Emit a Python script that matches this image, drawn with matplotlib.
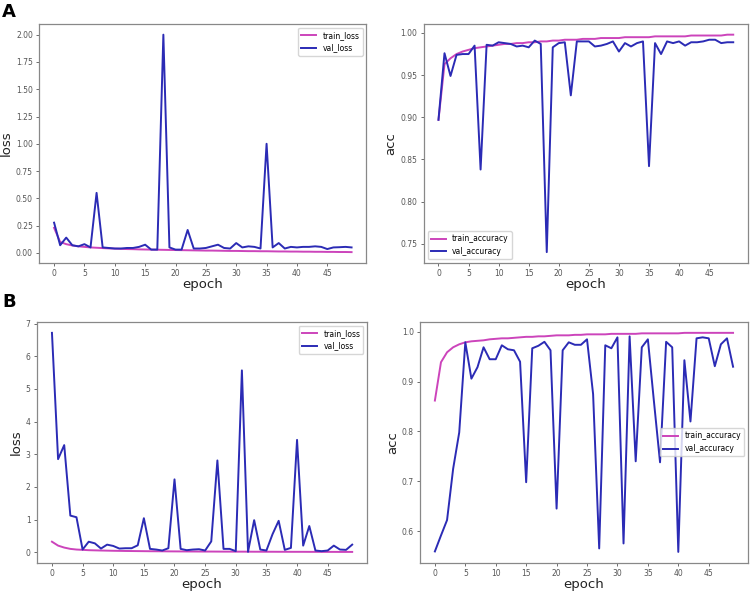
import matplotlib
matplotlib.use("Agg")
import matplotlib.pyplot as plt

epochs = list(range(50))

# panel A
a_train_loss = [0.23, 0.10, 0.080, 0.068, 0.060, 0.055, 0.050, 0.047, 0.044, 0.041,
                0.039, 0.037, 0.035, 0.034, 0.032, 0.031, 0.030, 0.029, 0.028, 0.027,
                0.026, 0.025, 0.024, 0.023, 0.022, 0.021, 0.021, 0.020, 0.019, 0.018,
                0.018, 0.017, 0.016, 0.016, 0.015, 0.015, 0.014, 0.013, 0.013, 0.012,
                0.012, 0.011, 0.011, 0.010, 0.010, 0.009, 0.009, 0.008, 0.008, 0.007]
a_val_loss = [0.277, 0.07, 0.14, 0.07, 0.06, 0.08, 0.05, 0.55, 0.05, 0.045,
              0.04, 0.04, 0.045, 0.045, 0.055, 0.075, 0.03, 0.03, 2.00, 0.05,
              0.03, 0.03, 0.21, 0.04, 0.04, 0.045, 0.06, 0.075, 0.045, 0.04,
              0.09, 0.05, 0.06, 0.055, 0.04, 1.00, 0.05, 0.09, 0.04, 0.055,
              0.05, 0.055, 0.055, 0.06, 0.055, 0.035, 0.05, 0.052, 0.055, 0.05]
a_train_acc = [0.897, 0.963, 0.970, 0.975, 0.978, 0.980, 0.982, 0.983, 0.984, 0.985,
               0.986, 0.987, 0.987, 0.988, 0.988, 0.989, 0.989, 0.990, 0.990, 0.991,
               0.991, 0.992, 0.992, 0.992, 0.993, 0.993, 0.993, 0.994, 0.994, 0.994,
               0.994, 0.995, 0.995, 0.995, 0.995, 0.995, 0.996, 0.996, 0.996, 0.996,
               0.996, 0.996, 0.997, 0.997, 0.997, 0.997, 0.997, 0.997, 0.998, 0.998]
a_val_acc = [0.897, 0.976, 0.949, 0.974, 0.975, 0.975, 0.985, 0.838, 0.986, 0.985,
             0.989, 0.988, 0.987, 0.984, 0.985, 0.983, 0.991, 0.987, 0.740, 0.983,
             0.988, 0.989, 0.926, 0.990, 0.990, 0.990, 0.984, 0.985, 0.987, 0.990,
             0.978, 0.988, 0.984, 0.988, 0.990, 0.842, 0.988, 0.975, 0.990, 0.988,
             0.990, 0.985, 0.989, 0.989, 0.990, 0.992, 0.992, 0.988, 0.989, 0.989]

# panel B
b_train_loss = [0.32, 0.20, 0.14, 0.10, 0.08, 0.07, 0.06, 0.055, 0.05, 0.046,
                0.042, 0.039, 0.036, 0.034, 0.032, 0.030, 0.028, 0.027, 0.026, 0.024,
                0.023, 0.022, 0.021, 0.020, 0.019, 0.018, 0.018, 0.017, 0.016, 0.016,
                0.015, 0.015, 0.014, 0.013, 0.013, 0.012, 0.012, 0.011, 0.011, 0.010,
                0.010, 0.010, 0.009, 0.009, 0.008, 0.008, 0.008, 0.007, 0.007, 0.007]
b_val_loss = [6.72, 2.85, 3.28, 1.12, 1.07, 0.08, 0.32, 0.27, 0.11, 0.23,
              0.19, 0.11, 0.12, 0.12, 0.21, 1.04, 0.10, 0.08, 0.05, 0.12,
              2.23, 0.10, 0.06, 0.08, 0.09, 0.05, 0.33, 2.81, 0.10, 0.10,
              0.03, 5.57, 0.01, 0.98, 0.08, 0.05, 0.55, 0.96, 0.07, 0.13,
              3.44, 0.20, 0.80, 0.05, 0.03, 0.05, 0.20, 0.08, 0.07, 0.23]
b_train_acc = [0.862, 0.939, 0.959, 0.969, 0.975, 0.979, 0.981, 0.982, 0.983, 0.985,
               0.986, 0.987, 0.987, 0.988, 0.989, 0.990, 0.990, 0.991, 0.991, 0.992,
               0.993, 0.993, 0.993, 0.994, 0.994, 0.995, 0.995, 0.995, 0.995, 0.996,
               0.996, 0.996, 0.996, 0.996, 0.997, 0.997, 0.997, 0.997, 0.997, 0.997,
               0.997, 0.998, 0.998, 0.998, 0.998, 0.998, 0.998, 0.998, 0.998, 0.998]
b_val_acc = [0.559, 0.591, 0.622, 0.725, 0.798, 0.979, 0.906, 0.929, 0.969, 0.945,
             0.945, 0.973, 0.965, 0.963, 0.940, 0.698, 0.967, 0.972, 0.980, 0.963,
             0.645, 0.963, 0.979, 0.974, 0.974, 0.985, 0.875, 0.565, 0.973, 0.967,
             0.989, 0.575, 0.991, 0.740, 0.969, 0.985, 0.860, 0.738, 0.980, 0.969,
             0.558, 0.943, 0.820, 0.987, 0.989, 0.987, 0.931, 0.975, 0.987, 0.930]

train_color = "#cc44bb"
val_color = "#2b2bb5"

fig = plt.figure(figsize=(7.54, 5.95), dpi=100)

panels = [
    # (rect, train, val, ylabel, train label, val label, legend loc, yticks)
    ([0.052, 0.558, 0.434, 0.402], a_train_loss, a_val_loss, "loss",
     "train_loss", "val_loss", "upper right", [0, 0.25, 0.5, 0.75, 1.0, 1.25, 1.5, 1.75, 2.0], "{:.2f}"),
    ([0.562, 0.558, 0.430, 0.402], a_train_acc, a_val_acc, "acc",
     "train_accuracy", "val_accuracy", "lower left", [0.75, 0.80, 0.85, 0.90, 0.95, 1.00], "{:.2f}"),
    ([0.049, 0.054, 0.438, 0.405], b_train_loss, b_val_loss, "loss",
     "train_loss", "val_loss", "upper right", [0, 1, 2, 3, 4, 5, 6, 7], "{:.0f}"),
    ([0.557, 0.054, 0.435, 0.405], b_train_acc, b_val_acc, "acc",
     "train_accuracy", "val_accuracy", "center right", [0.6, 0.7, 0.8, 0.9, 1.0], "{:.1f}"),
]

for rect, tr, va, ylab, trl, val, loc, yt, fmt in panels:
    ax = fig.add_axes(rect)
    ax.plot(epochs, tr, color=train_color, lw=1.4, label=trl)
    ax.plot(epochs, va, color=val_color, lw=1.4, label=val)
    ax.set_xticks(range(0, 50, 5))
    ax.set_yticks(yt)
    ax.set_yticklabels([fmt.format(v) for v in yt])
    ax.tick_params(labelsize=5.5, colors="#555555", length=2.5, width=0.6, pad=2)
    for sp in ax.spines.values():
        sp.set_color("#888888")
        sp.set_linewidth(0.9)
    ax.set_xlabel("epoch", fontsize=9.5, color="#222222", labelpad=0)
    ax.set_ylabel(ylab, fontsize=9.5, color="#222222", labelpad=2)
    leg = ax.legend(loc=loc, fontsize=5.5, frameon=True, fancybox=True)
    leg.get_frame().set_edgecolor("#cccccc")

fig.text(0.003, 0.98, "A", fontsize=13, fontweight="bold", va="center", ha="left")
fig.text(0.003, 0.493, "B", fontsize=13, fontweight="bold", va="center", ha="left")

fig.savefig("out.png", dpi=100)
